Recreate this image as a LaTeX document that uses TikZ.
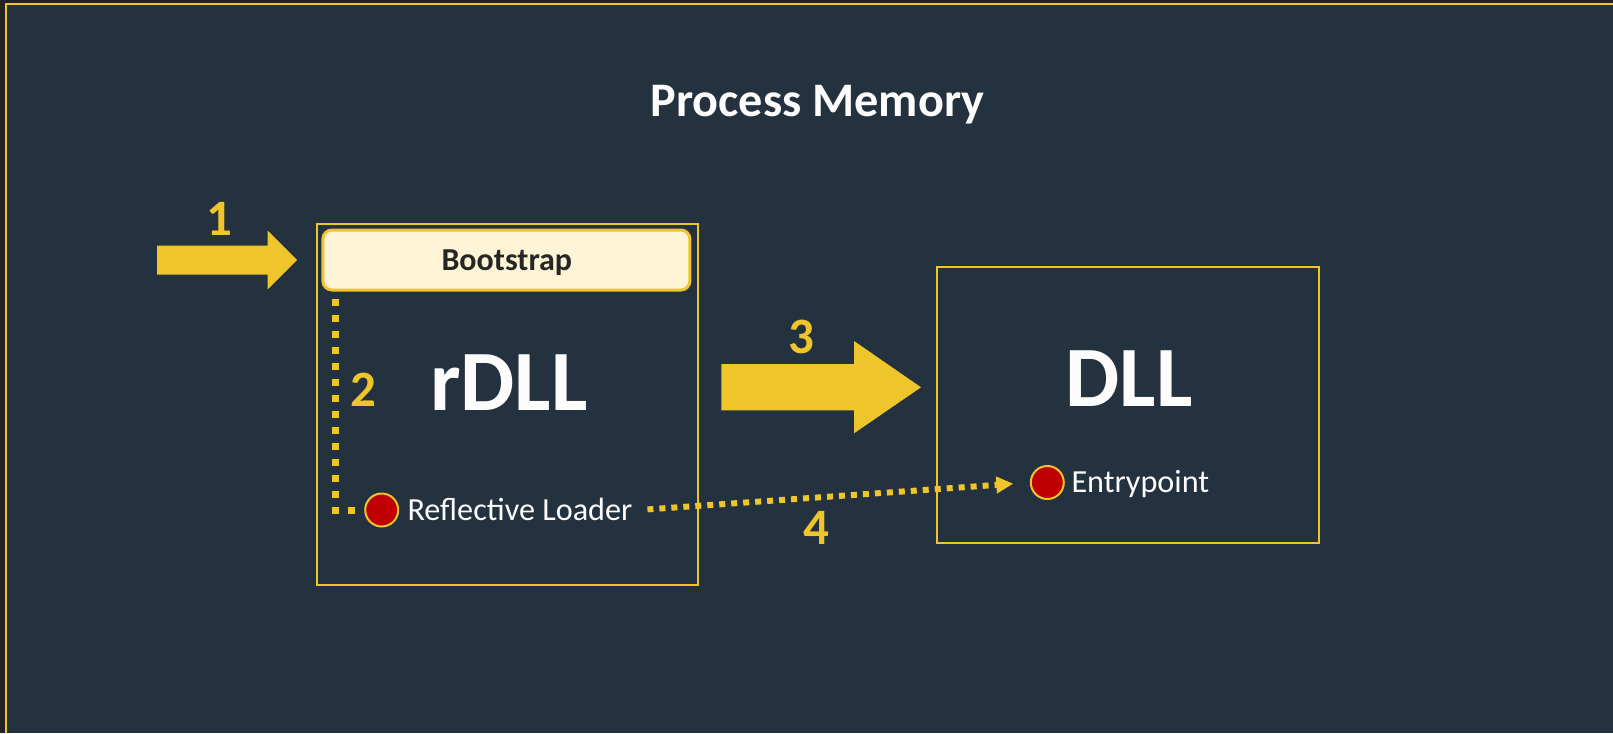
\documentclass[tikz,border=0pt]{standalone}
\usepackage{fontspec}
\setmainfont{Carlito}
\usetikzlibrary{arrows.meta,calc}
\definecolor{bgmain}{RGB}{36,49,62}
\definecolor{bgdark}{RGB}{35,35,35}
\definecolor{accent}{RGB}{238,197,42}
\definecolor{cream}{RGB}{253,244,214}
\definecolor{dotred}{RGB}{192,0,0}
\definecolor{darktext}{RGB}{38,38,38}
\definecolor{whitetext}{RGB}{252,252,252}
\begin{document}
\begin{tikzpicture}[x=1pt,y=-1pt,
  txt/.style={inner sep=0pt,outer sep=0pt,anchor=base},
  num/.style={txt,text=accent,font=\fontsize{51}{60}\selectfont\bfseries},
  bigname/.style={txt,text=whitetext,font=\fontsize{86}{100}\selectfont\bfseries},
  label/.style={txt,anchor=base west,text=whitetext,font=\fontsize{32.2}{38}\selectfont},
  framebox/.style={draw=accent,line width=2pt,inner sep=0pt,outer sep=0pt,rectangle},
  bootbox/.style={draw=accent,fill=cream,line width=3pt,rounded corners=9pt,inner sep=0pt,outer sep=0pt,
     minimum width=367pt,minimum height=60pt},
  reddot/.style={circle,fill=dotred,draw=accent,line width=2pt,minimum size=33pt,inner sep=0pt,outer sep=0pt},
  blockarrow/.style={fill=accent},
  dotline/.style={draw=accent,line width=7pt,dash pattern=on 7pt off 9pt},
  dotarrow/.style={draw=accent,line width=6pt,dash pattern=on 6pt off 6pt,-{Triangle[length=17pt,width=16pt]}},
]
\useasboundingbox (0,0) rectangle (1613,733);
% background and outer frame
\fill[bgdark] (0,0) rectangle (1613,733);
\fill[bgmain] (5,3) rectangle (1613,733);
\draw[accent,line width=2pt] (6,733) -- (6,4) -- (1613,4);

% title
\node[txt,text=whitetext,font=\fontsize{48.2}{58}\selectfont\bfseries] (title) at (817.5,116.5) {Process Memory};

% boxes
\node[framebox,minimum width=381.6pt,minimum height=361.3pt] (rdll) at (507.5,404.4) {};
\node[framebox,minimum width=382pt,minimum height=276.6pt] (dll) at (1127.7,405) {};
\node[bootbox] (boot) at (506.4,260) {};
\node[txt,text=darktext,font=\fontsize{32}{38}\selectfont\bfseries] (boottext) at (506.8,270.8) {Bootstrap};

% big labels
\node[bigname] (rdlltext) at (509,410) {rDLL};
\node[bigname] (dlltext) at (1129,406.7) {DLL};

% red dots and labels
\node[reddot] (rl) at (381.7,510) {};
\node[label] (rltext) at (407.5,520.7) {Reflective Loader};
\node[reddot] (ep) at (1047.3,482.5) {};
\node[label] (eptext) at (1071.5,492.7) {Entrypoint};

% block arrows
\fill[blockarrow] (157,245.7) -- (267.7,245.7) -- (267.7,230.7) -- (297,260) -- (267.7,289.3) -- (267.7,274.7) -- (157,274.7) -- cycle;
\fill[blockarrow] (721.3,364) -- (854,364) -- (854,341) -- (921,387.3) -- (854,433.3) -- (854,410.3) -- (721.3,410.3) -- cycle;

% dotted connectors
\draw[dotline,shorten >=10.5pt] ([shift={(12.3,9)}]boot.south west) |- (rl.west);
\draw[dotarrow,shorten >=17.5pt] ($(rltext.base east)+(15,-11.3)$) -- (ep.west);

% step numbers
\node[num] (n1) at (219,235) {1};
\node[num] (n2) at (363.3,406.7) {2};
\node[num] (n3) at (801.7,353.3) {3};
\node[num] (n4) at (816.7,544) {4};
\end{tikzpicture}
\end{document}
